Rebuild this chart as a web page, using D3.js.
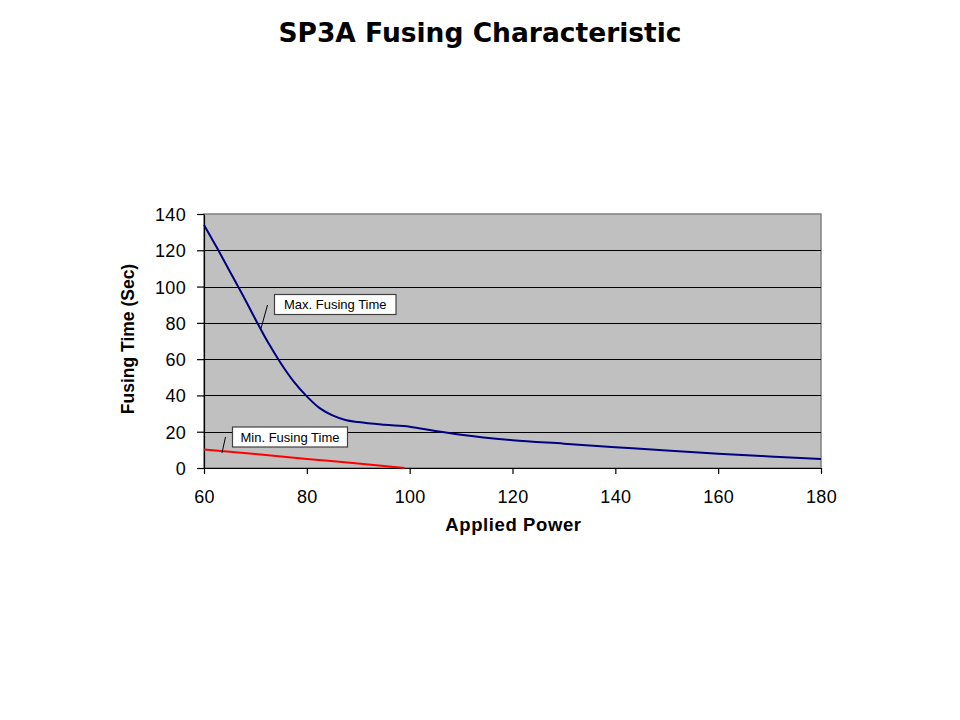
<!DOCTYPE html>
<html>
<head>
<meta charset="utf-8">
<script src="https://cdn.jsdelivr.net/npm/d3@7"></script>
<style>
  html, body { margin: 0; padding: 0; background: #fff; }
  svg { display: block; }
</style>
</head>
<body>
<svg id="chart" width="960" height="720"></svg>
<script>
// ---- data ----
const maxPower = [60, 62.5, 65, 67.5, 70, 72.5, 75, 77.5, 80, 82.5, 85, 87.5, 90, 95, 100, 105, 110, 120, 130, 140, 150, 160, 170, 180];
const maxTime  = [134, 121.5, 108.5, 95.5, 82, 69, 57.5, 47.5, 39.5, 33, 29, 26.5, 25.3, 23.8, 22.8, 20.4, 18.3, 15.3, 13.4, 11.5, 9.6, 7.9, 6.4, 5];
const minPower = [60, 70, 80, 90, 99];
const minTime  = [10.2, 7.7, 5, 2.5, 0];
const xTicks = [60, 80, 100, 120, 140, 160, 180];
const yTicks = [0, 20, 40, 60, 80, 100, 120, 140];
const titleText = "SP3A Fusing Characteristic";
const xTitle = "Applied Power";
const yTitle = "Fusing Time (Sec)";
const maxLabel = "Max. Fusing Time";
const minLabel = "Min. Fusing Time";

// ---- layout ----
const svg = d3.select("#chart");
const plot = { left: 204, top: 214, right: 821, bottom: 468 };
const x = d3.scaleLinear().domain([60, 180]).range([plot.left, plot.right]);
const y = d3.scaleLinear().domain([0, 140]).range([plot.bottom, plot.top]);

svg.append("text")
  .attr("x", 480).attr("y", 42)
  .attr("text-anchor", "middle")
  .attr("font-family", "DejaVu Sans, Verdana, sans-serif")
  .attr("font-weight", "bold")
  .attr("font-size", 26.5)
  .text(titleText);

// plot background
svg.append("rect")
  .attr("x", plot.left).attr("y", plot.top)
  .attr("width", plot.right - plot.left).attr("height", plot.bottom - plot.top)
  .attr("fill", "#C0C0C0")
  .attr("stroke", "#808080").attr("stroke-width", 1.5);

// gridlines
svg.append("g").selectAll("line")
  .data(yTicks.filter(d => d > 0 && d < 140))
  .join("line")
  .attr("x1", plot.left).attr("x2", plot.right)
  .attr("y1", d => Math.round(y(d)) + 0.5).attr("y2", d => Math.round(y(d)) + 0.5)
  .attr("stroke", "#000").attr("stroke-width", 1.2);

// axes
const yAxis = svg.append("g")
  .attr("transform", `translate(${plot.left},0)`)
  .call(d3.axisLeft(y).tickValues(yTicks).tickSize(7).tickSizeOuter(0).tickPadding(11));
const xAxis = svg.append("g")
  .attr("transform", `translate(0,${plot.bottom})`)
  .call(d3.axisBottom(x).tickValues(xTicks).tickSize(6).tickSizeOuter(0).tickPadding(15));
[yAxis, xAxis].forEach(g => {
  g.selectAll("path, line").attr("stroke", "#000").attr("stroke-width", 1.2);
  g.selectAll("text")
    .attr("fill", "#000")
    .attr("font-family", "Liberation Sans, Arial, sans-serif")
    .attr("font-size", 18)
    .attr("letter-spacing", 0.3);
});
yAxis.selectAll("text").attr("dy", "0.36em");
xAxis.selectAll("text").attr("dy", "0.75em");

// axis titles
svg.append("text")
  .attr("x", (plot.left + plot.right) / 2 + 1).attr("y", 531)
  .attr("text-anchor", "middle")
  .attr("font-family", "Liberation Sans, Arial, sans-serif")
  .attr("font-weight", "bold").attr("font-size", 18.5)
  .attr("letter-spacing", 0.6)
  .text(xTitle);
svg.append("text")
  .attr("transform", `translate(134,${(plot.top + plot.bottom) / 2 - 2}) rotate(-90)`)
  .attr("text-anchor", "middle")
  .attr("font-family", "Liberation Sans, Arial, sans-serif")
  .attr("font-weight", "bold").attr("font-size", 17.5)
  .text(yTitle);

// lines
const line = d3.line().x(d => x(d[0])).y(d => y(d[1])).curve(d3.curveMonotoneX);
svg.append("path")
  .datum(maxPower.map((p, i) => [p, maxTime[i]]))
  .attr("d", line)
  .attr("fill", "none").attr("stroke", "#000080").attr("stroke-width", 2);
svg.append("path")
  .datum(minPower.map((p, i) => [p, minTime[i]]))
  .attr("d", line)
  .attr("fill", "none").attr("stroke", "#FF0000").attr("stroke-width", 2);

// annotations
function callout(label, px, py, boxX, boxY, boxW, boxH, lx1, ly1) {
  svg.append("line")
    .attr("x1", x(px)).attr("y1", y(py)).attr("x2", lx1).attr("y2", ly1)
    .attr("stroke", "#000").attr("stroke-width", 1);
  svg.append("rect")
    .attr("x", boxX).attr("y", boxY).attr("width", boxW).attr("height", boxH)
    .attr("fill", "#fff").attr("stroke", "#404040").attr("stroke-width", 1.2);
  svg.append("text")
    .attr("x", boxX + boxW / 2).attr("y", boxY + boxH / 2 + 4.5)
    .attr("text-anchor", "middle")
    .attr("font-family", "Liberation Sans, Arial, sans-serif")
    .attr("font-size", 13)
    .text(label);
}
callout(maxLabel, 71.1, 77, 274.5, 294.5, 121.5, 20, 267.5, 305);
callout(minLabel, 63.5, 8.3, 232.5, 427, 115, 20, 225.5, 437);
</script>
</body>
</html>
